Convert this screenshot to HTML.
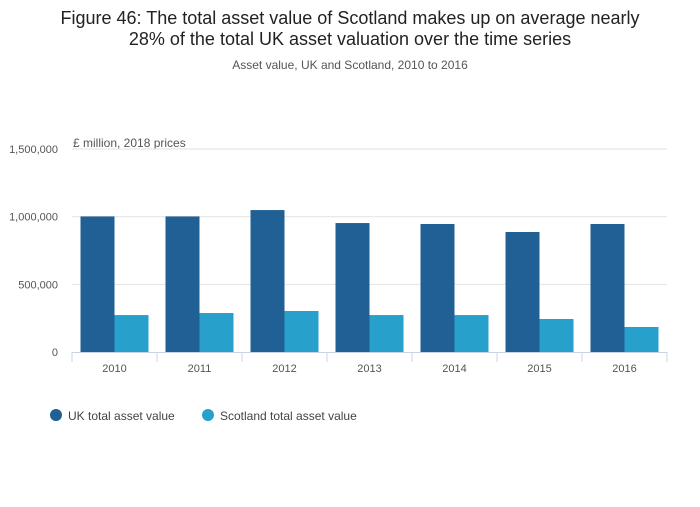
<!DOCTYPE html>
<html><head><meta charset="utf-8"><style>
body{margin:0;background:#fff;font-family:"Liberation Sans",sans-serif;}
svg text{font-family:"Liberation Sans",sans-serif;}
</style></head><body>
<svg id="chart" width="700" height="502">
<text x="350" y="24" text-anchor="middle" font-size="18" fill="#222">Figure 46: The total asset value of Scotland makes up on average nearly</text>
<text x="350" y="45" text-anchor="middle" font-size="18" fill="#222">28% of the total UK asset valuation over the time series</text>
<text x="350" y="69" text-anchor="middle" font-size="12" fill="#555">Asset value, UK and Scotland, 2010 to 2016</text>
<text x="73" y="147" font-size="12" fill="#555">£ million, 2018 prices</text>
<g id="grid"></g><g id="bars"></g><g id="xaxis"></g>
<g>
<circle cx="56" cy="415" r="6" fill="#206095"/>
<text x="68" y="420" font-size="12" fill="#444">UK total asset value</text>
<circle cx="208" cy="415" r="6" fill="#27a0cc"/>
<text x="220" y="420" font-size="12" fill="#444">Scotland total asset value</text>
</g>
</svg>
<script>
const categories=["2010","2011","2012","2013","2014","2015","2016"];
const ukValues=[1002000,1002000,1049000,953000,946000,887000,946000];
const scotlandValues=[273000,288000,303000,273000,273000,244000,185000];
const yTicks=[0,500000,1000000,1500000];
const yTickLabels=["0","500,000","1,000,000","1,500,000"];
const NS="http://www.w3.org/2000/svg";
const L=72,R=667,Y0=352,PX=135.3/1000000;
const y=v=>Y0-v*PX;
const bw=(R-L)/categories.length;
const x=i=>L+i*bw;
function mk(t,a,p){const e=document.createElementNS(NS,t);for(const k in a)e.setAttribute(k,a[k]);p.appendChild(e);return e;}
const grid=document.getElementById('grid'),bars=document.getElementById('bars'),xa=document.getElementById('xaxis');
yTicks.forEach((v,i)=>{
 if(v>0){const l=mk('line',{x1:L,x2:R,y1:y(v),y2:y(v),stroke:'#e2e2e2'},grid);
 
 }
 const t=mk('text',{x:58,y:y(v)+4,'text-anchor':'end','font-size':11,fill:'#555'},grid);
 t.textContent=yTickLabels[i];
 
 
});
const w=34,pad=(bw-2*w)/2;
categories.forEach((c,i)=>{
 const b1=mk('rect',{x:x(i)+pad,y:y(ukValues[i]),width:w,height:Y0-y(ukValues[i]),fill:'#206095'},bars);
 
 
 const b2=mk('rect',{x:x(i)+pad+w,y:y(scotlandValues[i]),width:w,height:Y0-y(scotlandValues[i]),fill:'#27a0cc'},bars);
 
 
 const t=mk('text',{x:x(i)+bw/2,y:372,'text-anchor':'middle','font-size':11,fill:'#555'},xa);
 t.textContent=c;
 
 
});
const ax=mk('line',{x1:L,x2:R,y1:Y0+0.5,y2:Y0+0.5,stroke:'#c8d3e6'},xa);


for(let i=0;i<=categories.length;i++){
 const tk=mk('line',{x1:x(i),x2:x(i),y1:Y0,y2:Y0+10,stroke:'#c8d3e6'},xa);
 
 
}
</script>
</body></html>
